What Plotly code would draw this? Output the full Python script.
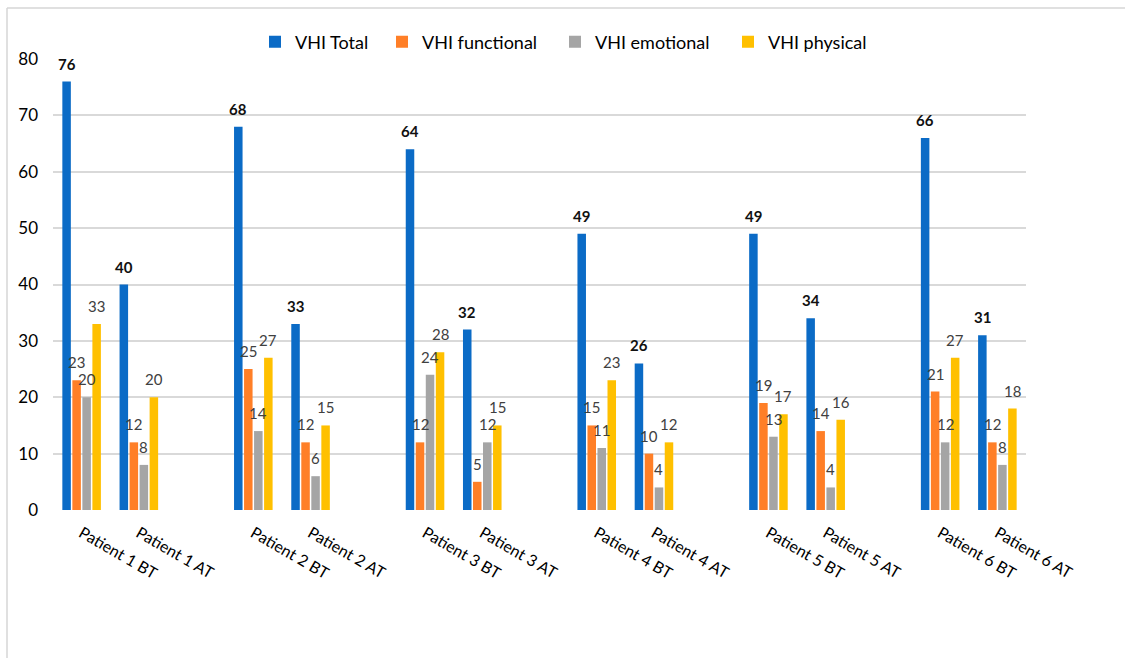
import plotly.graph_objects as go

# VHI scores per patient, before (BT) and after (AT) therapy
patients = ["Patient 1", "Patient 2", "Patient 3", "Patient 4", "Patient 5", "Patient 6"]
phases = ["BT", "AT"]

vhi_total = [76, 40, 68, 33, 64, 32, 49, 26, 49, 34, 66, 31]
vhi_functional = [23, 12, 25, 12, 12, 5, 15, 10, 19, 14, 21, 12]
vhi_emotional = [20, 8, 14, 6, 24, 12, 11, 4, 13, 4, 12, 8]
vhi_physical = [33, 20, 27, 15, 28, 15, 23, 12, 17, 16, 27, 18]

series = [
    ("VHI Total", vhi_total, "#0B6BC6", True),
    ("VHI functional", vhi_functional, "#FF7F27", False),
    ("VHI emotional", vhi_emotional, "#A5A5A5", False),
    ("VHI physical", vhi_physical, "#FFC000", False),
]

# each patient takes three slots: BT, AT, then an empty spacer
labels = []
xpos = []
for i, p in enumerate(patients):
    for j, ph in enumerate(phases):
        labels.append(f"{p} {ph}")
        xpos.append(3 * i + j)

FONT = "Lato, 'Open Sans', sans-serif"
BARGAP = 0.3
BARGROUPGAP = 0.15

W, H = 1125, 658
ml, mr, mt, mb = 53, 99, 59, 148
pw, ph = W - ml - mr, H - mt - mb

def px_x(x):
    return (x - ml) / pw

def px_y(y):
    return (H - mb - y) / ph

# left edge of each legend entry's text, in pixels
legend_text_x = [295, 422, 595, 768]

fig = go.Figure()
annotations = []
n = len(series)
slot = (1 - BARGAP) / n
for k, (name, vals, color, bold) in enumerate(series):
    lg = "legend" if k == 0 else f"legend{k + 1}"
    fig.add_trace(go.Bar(
        name=name,
        x=xpos,
        y=vals,
        legend=lg,
        marker=dict(color=color, line=dict(width=0)),
        hoverinfo="skip",
    ))
    # value label centred over each bar of the group
    shift = (k - (n - 1) / 2) * slot
    for x, v in zip(xpos, vals):
        annotations.append(dict(
            x=x + shift, y=v, xref="x", yref="y",
            text=f"<b>{v}</b>" if bold else str(v),
            showarrow=False, xanchor="center", yanchor="bottom", yshift=7,
            font=dict(family=FONT, size=15, color="#111111" if bold else "#404040"),
        ))

frame = dict(color="#D6D6D6", width=1.5)
shapes = [
    dict(type="line", xref="paper", yref="paper",
         x0=px_x(7), x1=px_x(W + 5), y0=px_y(8), y1=px_y(8), line=frame),
    dict(type="line", xref="paper", yref="paper",
         x0=px_x(7), x1=px_x(7), y0=px_y(8), y1=px_y(H + 5), line=frame),
]

legends = {}
for k, tx in enumerate(legend_text_x):
    key = "legend" if k == 0 else f"legend{k + 1}"
    legends[key] = dict(
        orientation="h",
        x=px_x(tx - 40),
        xanchor="left",
        y=px_y(42),
        yanchor="middle",
        font=dict(family=FONT, size=18, color="#000000"),
        bgcolor="rgba(0,0,0,0)",
        itemclick=False,
        itemdoubleclick=False,
    )

fig.update_layout(
    width=W,
    height=H,
    margin=dict(l=ml, r=mr, t=mt, b=mb),
    paper_bgcolor="white",
    plot_bgcolor="white",
    barmode="group",
    bargap=BARGAP,
    bargroupgap=BARGROUPGAP,
    font=dict(family=FONT, color="#000000"),
    showlegend=True,
    annotations=annotations,
    shapes=shapes,
    xaxis=dict(
        range=[-0.5, 16.5],
        tickmode="array",
        tickvals=xpos,
        ticktext=labels,
        tickangle=30,
        ticklabelstandoff=10,
        tickfont=dict(family=FONT, size=16, color="#000000"),
        showgrid=False,
        zeroline=False,
        showline=False,
        ticks="",
    ),
    yaxis=dict(
        range=[0, 80],
        dtick=10,
        showgrid=True,
        gridcolor="#D9D9D9",
        gridwidth=1.5,
        zeroline=False,
        showline=False,
        ticks="",
        ticklabelstandoff=14,
        tickfont=dict(family=FONT, size=17, color="#000000"),
    ),
    **legends,
)

fig.write_html("out.html")
